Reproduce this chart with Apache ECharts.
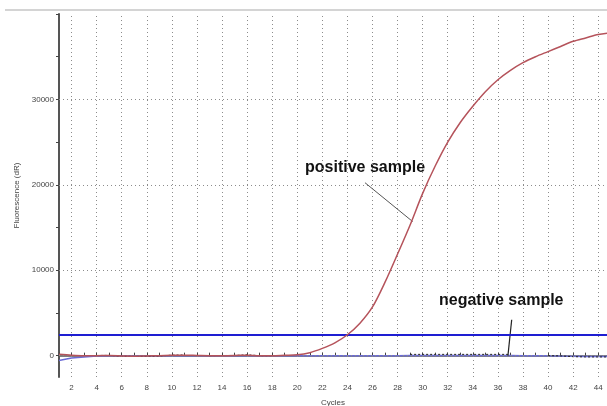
<!DOCTYPE html>
<html>
<head>
<meta charset="utf-8">
<script src="https://cdn.jsdelivr.net/npm/echarts@6/dist/echarts.min.js"></script>
<style>
  html, body { margin: 0; padding: 0; background: #fff; }
  #main { width: 607px; height: 406px; }
</style>
</head>
<body>
<div id="main"></div>
<script>
// cycles 1..45
var cycles = [];
for (var c = 1; c <= 45; c++) cycles.push(c);

var positive = [150, 50, 0, 0, 20, -30, -80, -30, 0, 50,
  60, 30, 0, 0, 20, 60, 0, 0, 50, 100,
  350, 850, 1500, 2450, 3800, 5700, 8600, 11900, 15300, 19000,
  22200, 25000, 27300, 29200, 30900, 32300, 33400, 34300, 35000, 35600,
  36200, 36800, 37200, 37600, 37800];

var negative = [-580, -270, -150, -50, -20, 0, -30, -30, -20, 0,
  0, 0, 0, 0, 0, 0, 0, 0, 0, 0,
  0, 0, 0, 0, 0, 0, 0, 0, 20, 20,
  20, 20, 20, 20, 20, 20, 20, 0, 0, 0,
  -50, -60, -100, -100, -100];

// dark trace segments near the baseline
var other = [null, null, null, 20, 30, -60, -100, -80, -40, 60,
  80, null, 0, 20, 20, 100, 0, 0, null, 30,
  null, null, null, null, null, null, null, null, 150, 150,
  150, 150, 150, 150, 150, 150, 150, null, null, 0,
  -30, -120, -150, -150, -150];

var threshold = 2450;
var yTicks = [0, 5000, 10000, 15000, 20000, 25000, 30000, 35000, 40000];
var yLabels = [0, 10000, 20000, 30000];
var xTicks = cycles.slice(0, 44);
var xLabels = [2, 4, 6, 8, 10, 12, 14, 16, 18, 20, 22, 24, 26, 28, 30, 32, 34, 36, 38, 40, 42, 44];

var dotted = { color: '#8c8c8c', width: 1, type: [1, 3] };
var plain = function (v) { return String(v); };

var myChart = echarts.init(document.getElementById('main'));
myChart.setOption({
  animation: false,
  textStyle: { fontFamily: 'Liberation Sans, Arial, sans-serif' },
  grid: { left: 59, right: 0, top: 14, bottom: 29, outerBoundsMode: 'none' },
  graphic: [
    { type: 'rect', left: 5, top: 9, shape: { width: 602, height: 2 }, style: { fill: '#d4d4d4' } },
    { type: 'text', left: 305, top: 160, style: { text: 'positive sample', font: 'bold 16px "Liberation Sans", Arial', fill: '#111' } },
    { type: 'text', left: 439, top: 293, style: { text: 'negative sample', font: 'bold 16px "Liberation Sans", Arial', fill: '#111' } }
  ],
  xAxis: {
    type: 'value',
    min: 1,
    max: 44.7,
    name: 'Cycles',
    nameLocation: 'middle',
    nameGap: 22,
    nameTextStyle: { fontSize: 8, color: '#444' },
    axisLine: { lineStyle: { color: '#555', width: 1.5 } },
    axisTick: { customValues: xTicks, length: 3, inside: true, lineStyle: { color: '#444' } },
    axisLabel: { customValues: xLabels, formatter: plain, fontSize: 8, color: '#444', margin: 7 },
    splitLine: { show: false }
  },
  yAxis: {
    type: 'value',
    min: -2500,
    max: 40000,
    name: 'Fluorescence (dR)',
    nameLocation: 'middle',
    nameGap: 32,
    nameTextStyle: { fontSize: 8, color: '#444' },
    axisLine: { show: true, lineStyle: { color: '#555', width: 2 } },
    axisTick: { show: true, customValues: yTicks, length: 3, lineStyle: { color: '#444' } },
    axisLabel: { customValues: yLabels, formatter: plain, fontSize: 8, color: '#444', margin: 5 },
    splitLine: { show: false }
  },
  series: [
    {
      name: 'grid',
      type: 'line',
      data: [],
      z: 1,
      silent: true,
      markLine: {
        symbol: 'none',
        silent: true,
        label: { show: false },
        lineStyle: dotted,
        data: xLabels.map(function (v) { return { xAxis: v }; })
          .concat(yLabels.map(function (v) { return { yAxis: v }; }))
      }
    },
    {
      name: 'negative',
      type: 'line',
      data: cycles.map(function (c, i) { return [c, negative[i]]; }),
      showSymbol: false,
      lineStyle: { color: '#6b6bd6', width: 1.5 },
      z: 3
    },
    {
      name: 'other',
      type: 'line',
      data: cycles.map(function (c, i) { return [c, other[i]]; }),
      showSymbol: false,
      connectNulls: false,
      lineStyle: { color: '#222', width: 1, type: [2, 2] },
      z: 4
    },
    {
      name: 'positive',
      type: 'line',
      data: cycles.map(function (c, i) { return [c, positive[i]]; }),
      showSymbol: false,
      smooth: 0.3,
      lineStyle: { color: '#b5535b', width: 1.5 },
      z: 5,
      markLine: {
        symbol: 'none',
        silent: true,
        label: { show: false },
        lineStyle: { type: 'solid', width: 1 },
        data: [
          [{ coord: [25.4, 20250], lineStyle: { color: '#555', type: 'solid', width: 1 } }, { coord: [29.2, 15700] }],
          [{ coord: [37.1, 4200], lineStyle: { color: '#222', type: 'solid', width: 1.2 } }, { coord: [36.8, 0] }]
        ]
      }
    },
    {
      name: 'threshold',
      type: 'line',
      data: [],
      z: 6,
      markLine: {
        symbol: 'none',
        silent: true,
        label: { show: false },
        lineStyle: { color: '#1e1ed2', width: 2, type: 'solid' },
        data: [{ yAxis: threshold }]
      }
    }
  ]
});
</script>
</body>
</html>
